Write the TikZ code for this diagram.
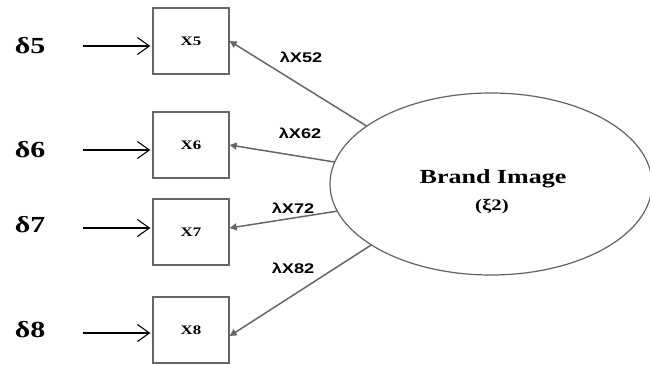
\documentclass[tikz,border=0pt]{standalone}
\usepackage{fontspec}
\setmainfont{Liberation Serif}
\newfontfamily\lblsans{Liberation Sans}
\usetikzlibrary{arrows.meta,shapes.geometric}
\newcommand{\wide}[1]{\scalebox{1.3}[1]{#1}}
\tikzset{
  obsbox/.style={draw=black!60, line width=1.3pt, minimum width=76pt, minimum height=66pt, inner sep=0pt, font=\fontsize{13}{13}\selectfont\bfseries},
  errlbl/.style={inner sep=0pt, font=\fontsize{23}{23}\selectfont\bfseries},
  lamlbl/.style={inner sep=0pt, font=\lblsans\fontsize{14}{14}\selectfont\bfseries},
  errarrow/.style={-{Straight Barb[length=12pt,width=17pt,line width=1.1pt]}, line width=1.2pt, black},
  loadarrow/.style={-{Triangle[length=7pt,width=7pt]}, line width=1.5pt, draw=black!60},
}
\begin{document}
\begin{tikzpicture}[x=1pt,y=-1pt]
\useasboundingbox (0,0) rectangle (650,364);
% boxes
\node[obsbox] (x5) at (191,41) {\wide{X5}};
\node[obsbox] (x6) at (191,145) {\wide{X6}};
\node[obsbox] (x7) at (191,232) {\wide{X7}};
\node[obsbox] (x8) at (191,330) {\wide{X8}};
% error labels
\node[errlbl] (d5) at (30,46) {\wide{δ5}};
\node[errlbl] (d6) at (30,150) {\wide{δ6}};
\node[errlbl] (d7) at (30,225) {\wide{δ7}};
\node[errlbl] (d8) at (30,330) {\wide{δ8}};
\coordinate (s5) at (83,46);
\coordinate (s6) at (83,150);
\coordinate (s7) at (83,228);
\coordinate (s8) at (83,333);
\draw[errarrow] (s5) -- ([xshift=-2pt]s5 -| x5.west);
\draw[errarrow] (s6) -- ([xshift=-2pt]s6 -| x6.west);
\draw[errarrow] (s7) -- ([xshift=-2pt]s7 -| x7.west);
\draw[errarrow] (s8) -- ([xshift=-2pt]s8 -| x8.west);
% latent
\node[ellipse, draw=black!62, line width=1.2pt, minimum width=322pt, minimum height=182pt, inner sep=0pt] (bi) at (491,184) {};
\node[inner sep=0pt, font=\fontsize{20}{20}\selectfont\bfseries] (bit) at (493,179) {\wide{Brand Image}};
\node[inner sep=0pt, font=\fontsize{16}{16}\selectfont\bfseries] (xi) at (492,207) {\wide{(ξ2)}};
% loadings
\draw[loadarrow] (bi.155) -- (x5.east);
\draw[loadarrow] (bi.172) -- (x6.east);
\draw[loadarrow] (bi.190) -- ([yshift=4pt]x7.east);
\draw[loadarrow] (bi.207) -- ([yshift=-6pt]x8.east);
\node[lamlbl] (l52) at (301,57) {\wide{λX52}};
\node[lamlbl] (l62) at (300,133) {\wide{λX62}};
\node[lamlbl] (l72) at (293,208) {\wide{λX72}};
\node[lamlbl] (l82) at (293,268) {\wide{λX82}};
\end{tikzpicture}
\end{document}
